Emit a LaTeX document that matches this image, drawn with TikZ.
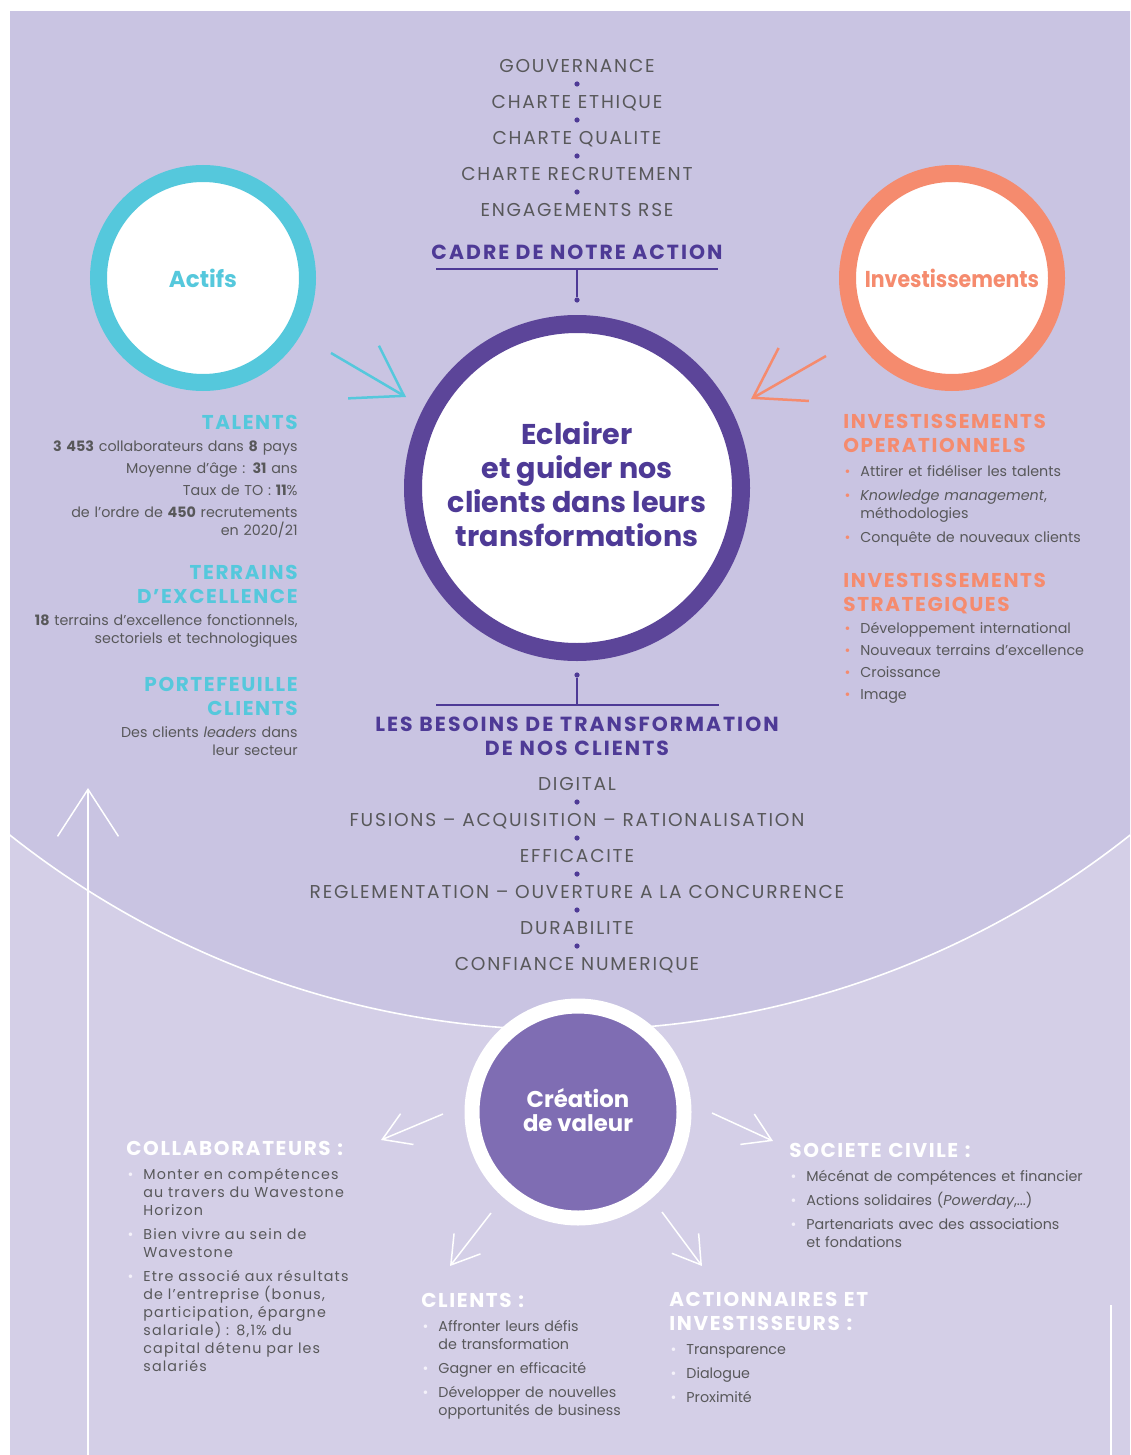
\documentclass[tikz,border=0pt]{standalone}
\usepackage{fontspec}
\setmainfont{Poppins}
\newfontfamily\listfont[LetterSpace=9.5]{Poppins}
\newfontfamily\headfont[LetterSpace=8]{Poppins}
\newfontfamily\mainheadfont[LetterSpace=10]{Poppins}
\newfontfamily\widefont[LetterSpace=8]{Poppins}
\usetikzlibrary{arrows.meta}

\definecolor{bgtop}{HTML}{C9C4E2}
\definecolor{bgbot}{HTML}{D4CFE7}
\definecolor{ringpurple}{HTML}{5C4599}
\definecolor{txtpurple}{HTML}{4E3A96}
\definecolor{actcyan}{HTML}{55C8DC}
\definecolor{invorange}{HTML}{F58B6E}
\definecolor{valpurple}{HTML}{7F6DB3}
\definecolor{txtgrey}{HTML}{58585A}
\definecolor{bulwhite}{HTML}{F4F2FA}

\newcommand{\orbul}{\leavevmode\llap{\textcolor{invorange}{\textbullet}\hspace{5pt}}}
\newcommand{\whbul}{\leavevmode\llap{\textcolor{bulwhite}{\textbullet}\hspace{5pt}}}

\begin{document}
\begin{tikzpicture}
    [
      x=0.5pt, y=-0.5pt,
      every node/.style={inner sep=0pt},
      listitem/.style={anchor=base, text=txtgrey, font=\listfont\fontsize{9.3pt}{11pt}\selectfont},
      listdot/.style={circle, fill=txtpurple, minimum size=2.6pt},
      mainhead/.style={anchor=base, text=txtpurple, font=\mainheadfont\bfseries\fontsize{10.2pt}{12pt}\selectfont},
      sidehead/.style={text width=180pt, font=\headfont\bfseries\fontsize{10pt}{12pt}\selectfont},
      sidebody/.style={text width=180pt, text=txtgrey, font=\fontsize{7.15pt}{9pt}\selectfont},
      lowbody/.style={text width=180pt, text=txtgrey, font=\widefont\fontsize{7.15pt}{9pt}\selectfont},
      ring/.style={circle, fill=white},
      barb/.style={line width=1.25pt, -{Straight Barb[length=23.5pt,width=30.5pt]}},
      thinbarb/.style={white, line width=0.75pt, -{Straight Barb[length=13.4pt,width=16.7pt]}},
    ]
    %
    \useasboundingbox (0,0) rectangle (1130,1455);
    \fill [white] (0,0) rectangle (1130,1455);
    \fill [bgbot] (10,12) rectangle (1130,1455);
    \begin{scope}
      \clip (10,12) rectangle (1130,1455);
      \fill [bgtop] (570,128) circle [radius=451pt];
      \draw [white, line width=0.8pt] (570,128) circle [radius=451pt];
    \end{scope}

    % long white arrow and right line
    \coordinate (upA) at (88,1455);
    \coordinate (upB) at (88,788);
    \draw [barb, white, line width=0.75pt] (upA) -- (upB);
    \coordinate (edgeA) at (1111,1305);
    \coordinate (edgeB) at (1111,1455);
    \draw [white, line width=0.75pt] (edgeA) -- (edgeB);

    % cadre de notre action
    \foreach \i/\txt in {1/GOUVERNANCE, 2/CHARTE ETHIQUE, 3/CHARTE QUALITE, 4/CHARTE RECRUTEMENT, 5/ENGAGEMENTS RSE} {
      \node [listitem] (cadre\i) at (577,36.5+36*\i) {\txt};
    }
    \foreach \i in {1,...,4} {
      \node [listdot] (cadredot\i) at (577,48+36*\i) {};
    }
    \node [mainhead] (cadre) at (577,259) {CADRE DE NOTRE ACTION};
    \coordinate (cadreL) at (436,269);
    \coordinate (cadreR) at (718,269);
    \coordinate (cadreline) at (577,269);
    \node [listdot] (topdot) at (577,300) {};
    \draw [txtpurple, line width=1pt] (cadreL) -- (cadreR);
    \draw [txtpurple, line width=1pt] (cadreline) -- (topdot);

    % circles
    \node [ring, draw=ringpurple, line width=9pt, minimum size=164pt] (main) at (577,488) {};
    \node [text=txtpurple, align=center, font=\bfseries\fontsize{14.3pt}{17pt}\selectfont] (mainlabel) at (577,484)
      {Eclairer\\et guider nos\\clients dans leurs\\transformations};
    \node [ring, draw=actcyan, line width=8.5pt, minimum size=104.5pt, text=actcyan,
           font=\bfseries\fontsize{11.5pt}{13pt}\selectfont] (actifs) at (203,278) {Actifs};
    \node [ring, draw=invorange, line width=8.5pt, minimum size=104.5pt, text=invorange,
           font=\bfseries\fontsize{11.5pt}{13pt}\addfontfeatures{FakeStretch=0.89}\selectfont] (invest) at (952,278) {Investissements};
    \node [circle, draw=white, fill=valpurple, line width=7.5pt, minimum size=106pt] (valeur) at (578,1112) {};
    \node [text=white, align=center, font=\bfseries\fontsize{11.4pt}{12pt}\selectfont] (valeurlabel) at (578,1110)
      {Création\\de valeur};

    % arrows to main circle
    \coordinate (actA) at (331,353);
    \coordinate (actB) at (406,397);
    \draw [barb, actcyan] (actA) -- (actB);
    \coordinate (invA) at (826,356);
    \coordinate (invB) at (751,399);
    \draw [barb, invorange] (invA) -- (invB);

    % actifs
    \node [sidehead, anchor=base east, align=right, text=actcyan] (talents) at (298,429) {TALENTS};
    \node [sidebody, anchor=base east, align=right] (talentsbody) at (298,451)
      {\textbf{3 453} collaborateurs dans \textbf{8} pays\\[2pt]
       Moyenne d’âge : \textbf{31} ans\\[2pt]
       Taux de TO : \textbf{11}\%\\[2pt]
       de l’ordre de \textbf{450} recrutements\\
       en 2020/21};
    \node [sidehead, anchor=base east, align=right, text=actcyan] (terrains) at (298,579) {TERRAINS\\D’EXCELLENCE};
    \node [sidebody, anchor=base east, align=right] (terrainsbody) at (298,625)
      {\textbf{18} terrains d’excellence fonctionnels,\\sectoriels et technologiques};
    \node [sidehead, anchor=base east, align=right, text=actcyan] (portef) at (298,691) {PORTEFEUILLE\\CLIENTS};
    \node [sidebody, anchor=base east, align=right] (portefbody) at (298,737)
      {Des clients \emph{leaders} dans\\leur secteur};

    % investissements
    \node [sidehead, anchor=base west, align=left, text=invorange] (invop) at (843,428) {INVESTISSEMENTS\\OPERATIONNELS};
    \node [sidebody, anchor=base west, align=left] (invopbody) at (860,476)
      {\orbul Attirer et fidéliser les talents\\[3pt]
       \orbul\emph{Knowledge management},\\méthodologies\\[3pt]
       \orbul Conquête de nouveaux clients};
    \node [sidehead, anchor=base west, align=left, text=invorange] (invstrat) at (843,587) {INVESTISSEMENTS\\STRATEGIQUES};
    \node [sidebody, anchor=base west, align=left] (invstratbody) at (860,633)
      {\orbul Développement international\\[2pt]
       \orbul Nouveaux terrains d’excellence\\[2pt]
       \orbul Croissance\\[2pt]
       \orbul Image};

    % besoins de nos clients
    \node [listdot] (besoinsdot) at (577,675) {};
    \coordinate (besoinsline) at (577,705);
    \coordinate (besoinsL) at (436,705);
    \coordinate (besoinsR) at (719,705);
    \draw [txtpurple, line width=1pt] (besoinsdot) -- (besoinsline);
    \draw [txtpurple, line width=1pt] (besoinsL) -- (besoinsR);
    \node [mainhead, align=center, text width=250pt] (besoins) at (577,731) {LES BESOINS DE TRANSFORMATION\\DE NOS CLIENTS};
    \foreach \i/\txt in {0/DIGITAL, 1/FUSIONS – ACQUISITION – RATIONALISATION, 2/EFFICACITE, 3/REGLEMENTATION – OUVERTURE A LA CONCURRENCE, 4/DURABILITE, 5/CONFIANCE NUMERIQUE} {
      \node [listitem] (besoin\i) at (577,790.5+36*\i) {\txt};
    }
    \foreach \i in {0,...,4} {
      \node [listdot] (besoindot\i) at (577,802+36*\i) {};
    }

    % arrows out of valeur
    \coordinate (collabA) at (443,1114);
    \coordinate (collabB) at (381,1140);
    \draw [thinbarb] (collabA) -- (collabB);
    \coordinate (civA) at (712,1113);
    \coordinate (civB) at (773,1141);
    \draw [thinbarb] (civA) -- (civB);
    \coordinate (cliA) at (491,1213);
    \coordinate (cliB) at (450,1266);
    \draw [thinbarb] (cliA) -- (cliB);
    \coordinate (actioA) at (662,1212);
    \coordinate (actioB) at (702,1266);
    \draw [thinbarb] (actioA) -- (actioB);

    % parties prenantes
    \node [sidehead, anchor=base west, align=left, text=white] (collab) at (126,1155) {COLLABORATEURS :};
    \node [lowbody, anchor=base west, align=left] (collabbody) at (143,1179)
      {\whbul Monter en compétences\\au travers du Wavestone\\Horizon\\[3pt]
       \whbul Bien vivre au sein de\\Wavestone\\[3pt]
       \whbul Etre associé aux résultats\\de l’entreprise (bonus,\\participation, épargne\\salariale) : 8,1\% du\\capital détenu par les\\salariés};
    \node [sidehead, anchor=base west, align=left, text=white] (civile) at (789,1157) {SOCIETE CIVILE :};
    \node [sidebody, anchor=base west, align=left] (civilebody) at (806,1181)
      {\whbul Mécénat de compétences et financier\\[3pt]
       \whbul Actions solidaires (\emph{Powerday},...)\\[3pt]
       \whbul Partenariats avec des associations\\et fondations};
    \node [sidehead, anchor=base west, align=left, text=white] (clients) at (421,1307) {CLIENTS :};
    \node [sidebody, anchor=base west, align=left] (clientsbody) at (438,1331)
      {\whbul Affronter leurs défis\\de transformation\\[3pt]
       \whbul Gagner en efficacité\\[3pt]
       \whbul Développer de nouvelles\\opportunités de business};
    \node [sidehead, anchor=base west, align=left, text=white] (action) at (669,1306) {ACTIONNAIRES ET\\INVESTISSEURS :};
    \node [sidebody, anchor=base west, align=left] (actionbody) at (686,1354)
      {\whbul Transparence\\[3pt]
       \whbul Dialogue\\[3pt]
       \whbul Proximité};
\end{tikzpicture}
\end{document}
